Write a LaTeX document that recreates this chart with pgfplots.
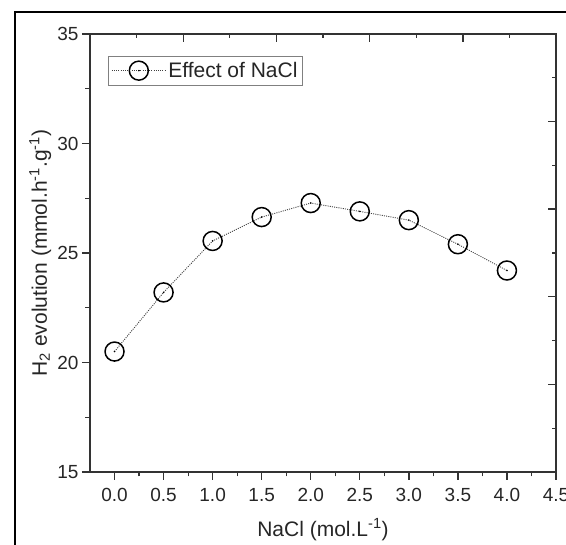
\documentclass[border=0pt]{standalone}
\usepackage{fontspec}
\setmainfont{Liberation Sans}
\usepackage{pgfplots}
\pgfplotsset{compat=1.18}

\pgfdeclareplotmark{circdot}{%
  \pgfpathcircle{\pgfpointorigin}{\pgfplotmarksize}\pgfusepathqstroke
  \pgfpathcircle{\pgfpointorigin}{0.9pt}\pgfusepathqfill}

\pgfplotstableread{
x   y
0.0 20.5
0.5 23.2
1.0 25.55
1.5 26.64
2.0 27.28
2.5 26.9
3.0 26.5
3.5 25.4
4.0 24.2
}\nacl

\begin{document}
\begin{tikzpicture}
\useasboundingbox (0,0) rectangle (566pt,545pt);
\draw[line width=2pt] (15pt,0pt) -- (15pt,533pt) -- (566pt,533pt);

\pgfplotsset{common/.style={
    scale only axis, width=466pt, height=438pt,
    at={(90pt,73pt)}, anchor=south west,
    xmin=-0.25, xmax=4.5, ymin=15, ymax=35,
    axis line style={line width=1.4pt, black!80},
    major tick style={line width=1.4pt, black!80},
    minor tick style={line width=1.2pt, black!80},
    major tick length=8pt, minor tick length=4.5pt,
}}

% ticks drawn inside on the top and right
\begin{axis}[common,
    tick align=inside, xtick pos=top, ytick pos=right,
    xtick={0.7,1.65,2.6,3.55}, minor xtick={0.225,1.175,2.125,3.075,4.025},
    ytick={19,23,27,31}, minor ytick={17,21,25,29,33},
    xticklabels={}, yticklabels={},
]
\end{axis}

\begin{axis}[common,
    tick align=outside, xtick pos=bottom, ytick pos=left,
    xtick={0,0.5,...,4.5}, minor x tick num=1,
    ytick={15,20,25,30,35}, minor y tick num=1,
    /pgf/number format/assume math mode=true,
    xticklabel style={yshift=-5pt, /pgf/number format/.cd, fixed, fixed zerofill, precision=1},
    ticklabel style={font=\fontsize{19}{22}\selectfont, text=black!85},
    xlabel={NaCl (mol.L\textsuperscript{-1})},
    ylabel={H\textsubscript{2} evolution (mmol.h\textsuperscript{-1}.g\textsuperscript{-1})},
    label style={font=\fontsize{21}{25}\selectfont, text=black!85},
    xlabel style={at={(axis description cs:0.5,-0.132)}, anchor=center},
    ylabel style={at={(axis description cs:-0.107,0.5)}, anchor=center},
    legend style={at={(axis description cs:0.0386,0.95)}, anchor=north west,
        draw=black!50, line width=0.8pt, inner xsep=3pt, inner ysep=4pt,
        font=\fontsize{21}{25}\selectfont, text=black!85},
    legend cell align=left,
    legend image code/.code={%
        \draw[#1, mark repeat=2, mark phase=2]
            plot coordinates {(0pt,0pt) (27pt,0pt) (54pt,0pt)};},
]
\addplot[black!75, line width=0.9pt, dash pattern=on 1pt off 1.2pt,
    mark=circdot, mark size=9.5pt,
    mark options={solid, black, line width=1.5pt}] table[x=x, y=y] {\nacl};
\addlegendentry{Effect of NaCl}
\end{axis}
\end{tikzpicture}
\end{document}
